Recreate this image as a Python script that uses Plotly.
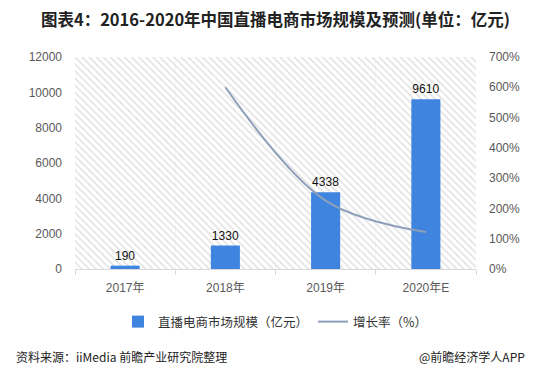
import plotly.graph_objects as go

categories = ["2017年", "2018年", "2019年", "2020年E"]
scale_values = [190, 1330, 4338, 9610]
growth_cats = ["2018年", "2019年", "2020年E"]
growth_values = [600, 226, 122]
left_ticks = [0, 2000, 4000, 6000, 8000, 10000, 12000]
right_ticks = [0, 100, 200, 300, 400, 500, 600, 700]

cjk = "Noto Sans CJK SC"
latin = "Liberation Sans, Noto Sans CJK SC, sans-serif"

fig = go.Figure()

# hatched background
fig.add_trace(go.Bar(
    x=categories, y=[12000] * len(categories), width=1,
    marker=dict(color="white", line=dict(width=0),
                pattern=dict(shape="\\", fgcolor="#c4c4c4", bgcolor="white", size=5, solidity=0.3)),
    showlegend=False, hoverinfo="skip",
))

fig.add_trace(go.Bar(
    x=categories, y=scale_values, width=0.29,
    name="直播电商市场规模（亿元）",
    marker=dict(color="#3F84DE", line=dict(width=0)),
    text=[str(v) for v in scale_values], textposition="outside",
    textfont=dict(size=12, color="#111111", family=latin),
    cliponaxis=False,
))

fig.add_trace(go.Scatter(
    x=growth_cats, y=growth_values, yaxis="y2", mode="lines",
    name="增长率（%）",
    line=dict(color="#8E9FBA", width=2, shape="spline", smoothing=1.0),
))

T, B = 49, 122

fig.update_layout(
    width=535, height=383,
    margin=dict(l=67, r=67, t=T, b=B, autoexpand=False),
    paper_bgcolor="white", plot_bgcolor="white",
    barmode="overlay",
    font=dict(family=latin, size=11, color="#595959"),
    title=dict(text="<b>图表4：2016-2020年中国直播电商市场规模及预测(单位：亿元)</b>",
               x=0.5, xanchor="center", y=1 - 12 / 383, yanchor="middle",
               font=dict(size=16.5, color="#222222", family=cjk)),
    xaxis=dict(type="category", tickson="boundaries", showgrid=True, gridcolor="#d9d9d9",
               gridwidth=1, showline=True, linecolor="#d9d9d9", ticks="outside",
               tickcolor="#d9d9d9", ticklen=5, tickfont=dict(size=12, color="#595959", family=latin),
               categoryorder="array", categoryarray=categories, ticklabelstandoff=8),
    yaxis=dict(range=[0, 12000], tickvals=left_ticks, ticktext=[str(v) for v in left_ticks],
               showgrid=True, gridcolor="#d9d9d9",
               zeroline=False, tickfont=dict(size=12, color="#595959"), ticks="",
               ticklabelstandoff=12),
    yaxis2=dict(range=[0, 700], tickvals=right_ticks, ticktext=[f"{v}%" for v in right_ticks],
                overlaying="y", side="right", showgrid=False, zeroline=False,
                tickfont=dict(size=12, color="#595959"), ticklabelstandoff=12),
    legend=dict(orientation="h", x=0.5, xanchor="center", y=-53 / 212, yanchor="middle",
                font=dict(size=12.5, color="#333333", family=cjk), itemwidth=30, traceorder="normal"),
    showlegend=True,
)

fig.add_annotation(text="资料来源：iiMedia 前瞻产业研究院整理", xref="paper", yref="paper",
                   x=-67 / 401, xanchor="left", y=-87 / 212, yanchor="middle", showarrow=False,
                   font=dict(size=12, color="#222222", family=cjk), xshift=6)
fig.add_annotation(text="@前瞻经济学人APP", xref="paper", yref="paper",
                   x=1 + 67 / 401, xanchor="right", y=-87 / 212, yanchor="middle", showarrow=False,
                   font=dict(size=12, color="#222222", family=cjk), xshift=-16)

fig.write_html("out.html")
